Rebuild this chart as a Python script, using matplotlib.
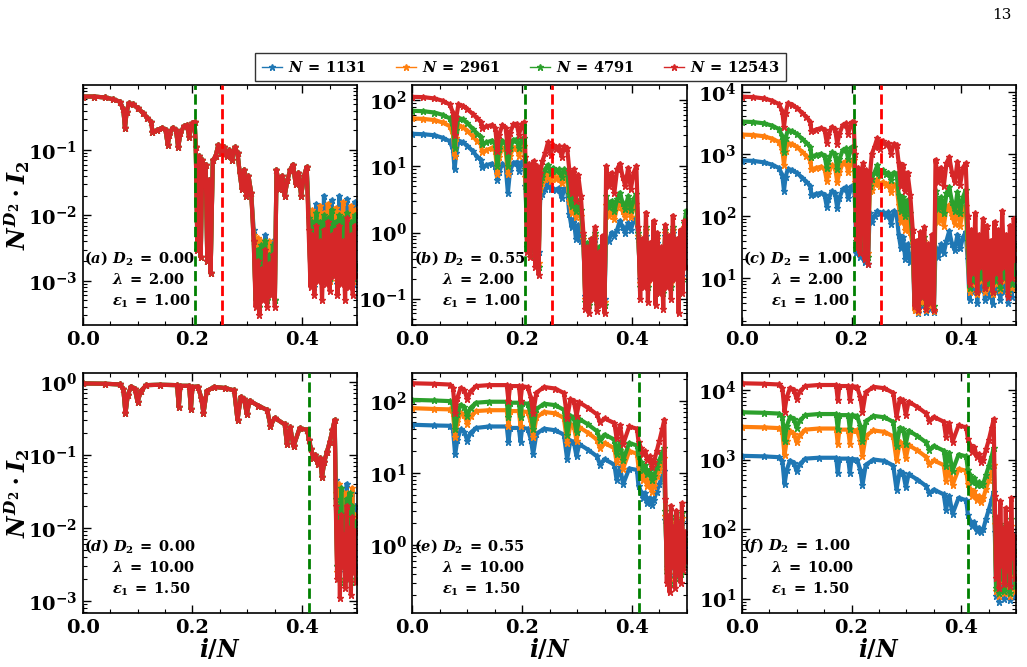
import matplotlib
matplotlib.use("Agg")
import matplotlib.pyplot as plt
from matplotlib.lines import Line2D
from matplotlib.ticker import MultipleLocator, LogLocator, NullFormatter

plt.rcParams.update({
    "font.family": "DejaVu Serif",
    "font.weight": "bold",
    "font.size": 14,
    "mathtext.fontset": "custom",
    "mathtext.rm": "DejaVu Serif:bold",
    "mathtext.bf": "DejaVu Serif:bold",
    "mathtext.it": "DejaVu Serif:italic:bold",
    "axes.linewidth": 1.2,
    "xtick.direction": "in",
    "ytick.direction": "in",
    "xtick.top": True,
    "ytick.right": True,
})

# *** Datos ***
N_VALUES = [1131, 2961, 4791, 12543]
COLORS = ["#1f77b4", "#ff7f0e", "#2ca02c", "#d62728"]

# eje x compartido (fila superior: lambda = 2, eps = 1)
X_TOP = [0.000, 0.020, 0.040, 0.055, 0.068, 0.074, 0.077, 0.080, 0.084, 0.092,
         0.100, 0.110, 0.118, 0.125, 0.127, 0.135, 0.145, 0.151, 0.155, 0.158,
         0.164, 0.170, 0.174, 0.178, 0.184, 0.190, 0.194, 0.200, 0.204,
         0.206, 0.209, 0.212, 0.215, 0.218, 0.221, 0.224, 0.227, 0.230, 0.233,
         0.237, 0.242, 0.247, 0.252, 0.257, 0.262, 0.267, 0.272, 0.277, 0.282,
         0.286, 0.290, 0.294, 0.298, 0.302, 0.307,
         0.3115, 0.315, 0.3185, 0.322, 0.3255, 0.329, 0.3325, 0.336, 0.3395, 0.343, 0.3465, 0.350,
         0.353, 0.358, 0.363, 0.368, 0.373, 0.378, 0.383, 0.388, 0.393, 0.398, 0.403, 0.408,
         0.4115, 0.415, 0.4185, 0.422, 0.4255, 0.429, 0.4325, 0.436, 0.4395, 0.443, 0.4465, 0.450,
         0.4535, 0.457, 0.4605, 0.464, 0.4675, 0.471, 0.4745, 0.478, 0.4815, 0.485, 0.4885, 0.492,
         0.4955, 0.499]

# eje x compartido (fila inferior: lambda = 10, eps = 1.5)
X_BOT = [0.000, 0.040, 0.068, 0.074, 0.078, 0.082, 0.088, 0.095, 0.100, 0.106,
         0.116, 0.140, 0.172, 0.175, 0.178, 0.194, 0.197, 0.200, 0.210, 0.216,
         0.220, 0.226, 0.240, 0.260, 0.276, 0.282, 0.288, 0.294, 0.299, 0.304,
         0.320, 0.336, 0.342, 0.350, 0.368, 0.372, 0.378, 0.384, 0.395, 0.409,
         0.412, 0.416, 0.420, 0.424, 0.428, 0.432, 0.436, 0.440, 0.445, 0.450, 0.455, 0.459,
         0.461, 0.4635, 0.466, 0.4685, 0.471, 0.4735, 0.476, 0.4785, 0.481, 0.4835, 0.486, 0.4885,
         0.491, 0.4935, 0.496, 0.4985]

# --- (a) D2 = 0.00: las cuatro curvas coinciden fuera de las zonas ruidosas
A_SMOOTH = [0.66, 0.66, 0.64, 0.60, 0.55, 0.42, 0.22, 0.38, 0.52, 0.50,
            0.44, 0.37, 0.31, 0.27, 0.19, 0.20, 0.22, 0.20, 0.12, 0.17,
            0.22, 0.20, 0.11, 0.18, 0.23, 0.24, 0.16, 0.26, 0.27]
A_MID = [0.11, 0.003, 0.08, 0.0023, 0.07, 0.045, 0.06, 0.002, 0.035, 0.0013,
         0.07, 0.08, 0.12, 0.09, 0.11, 0.08, 0.10, 0.07, 0.11, 0.09,
         0.045, 0.025, 0.05, 0.02, 0.04, 0.022]
A_BAND3 = [0.05, 0.025, 0.04, 0.02, 0.035, 0.05, 0.06, 0.03, 0.045, 0.02, 0.04, 0.055]
A_NOISY2_BLUE = [0.006, 0.0005, 0.004, 0.0004, 0.003, 0.0006, 0.005, 0.0005, 0.003, 0.0007, 0.004, 0.0005]
A_NOISY2_ORANGE = [0.005, 0.0005, 0.0045, 0.0004, 0.004, 0.0006, 0.0035, 0.0005, 0.004, 0.0007, 0.003, 0.0005]
A_NOISY2_GREEN = [0.004, 0.0005, 0.003, 0.0004, 0.0035, 0.0006, 0.004, 0.0005, 0.0025, 0.0007, 0.0035, 0.0005]
A_NOISY2_RED = [0.004, 0.0004, 0.002, 0.0003, 0.0015, 0.0005, 0.003, 0.0004, 0.0018, 0.0006, 0.0025, 0.0004]
A_NOISY3_BLUE = [0.012, 0.001, 0.009, 0.0008, 0.015, 0.0012, 0.01, 0.0009, 0.02, 0.0011, 0.012, 0.001, 0.017,
                 0.0015, 0.011, 0.0009, 0.02, 0.0012, 0.013, 0.0008, 0.018, 0.001, 0.012, 0.0009, 0.016, 0.0015]
A_NOISY3_ORANGE = [0.01, 0.0011, 0.012, 0.0009, 0.009, 0.0013, 0.014, 0.001, 0.011, 0.0012, 0.015, 0.001, 0.009,
                   0.0014, 0.013, 0.001, 0.011, 0.0013, 0.016, 0.0009, 0.01, 0.0012, 0.014, 0.001, 0.012, 0.0016]
A_NOISY3_GREEN = [0.009, 0.0012, 0.008, 0.001, 0.011, 0.0014, 0.008, 0.0011, 0.01, 0.0013, 0.009, 0.0011, 0.012,
                  0.0015, 0.008, 0.0011, 0.01, 0.0014, 0.009, 0.001, 0.011, 0.0013, 0.008, 0.0011, 0.01, 0.0017]
A_NOISY3_RED = [0.006, 0.0008, 0.005, 0.0006, 0.007, 0.001, 0.004, 0.0005, 0.006, 0.0009, 0.008, 0.0007, 0.005,
                0.0012, 0.006, 0.0006, 0.007, 0.0009, 0.004, 0.0005, 0.009, 0.0008, 0.005, 0.0006, 0.007, 0.0012]

# --- (b) D2 = 0.55
B_BLUE = [31, 30.5, 29.5, 27, 24, 18, 9, 16, 24.5, 23, 20.5, 17, 14, 12.5, 9.7, 10.4, 11, 10, 6.3, 8.2,
          11, 10, 4.0, 8.6, 11.3, 11.5, 8.6, 11.8, 12,
          5, 0.9, 4, 0.8, 3.2, 4.5, 0.6, 3.5, 0.5, 3.5,
          3.8, 4.5, 5.8, 4.5, 4.6, 4.4, 4.7, 3.3, 4.6, 4.5,
          1.9, 1.2, 1.6, 0.8, 1.3, 0.75,
          0.7, 0.11, 0.5, 0.1, 0.6, 0.14, 0.8, 0.1, 0.45, 0.12, 0.6, 0.1,
          0.8, 0.75, 1.0, 0.9, 1.1, 1.5, 1.2, 1.0, 1.4, 1.1, 1.5, 1.7,
          0.8, 0.2, 0.5, 0.25, 0.9, 0.2, 0.45, 0.3, 0.8, 0.16, 0.7, 0.22, 0.4,
          0.16, 0.9, 0.25, 0.6, 0.2, 1.0, 0.3, 0.5, 0.16, 0.8, 0.22, 1.1, 1.3]
B_ORANGE = [53, 52, 50, 46, 40.5, 30.5, 14.5, 27, 41.5, 39, 34.5, 28.5, 24, 21.5, 16.5, 17.5, 19, 17, 7.7, 14,
            19, 17, 7.7, 14.5, 19, 19.5, 14.5, 20, 20.3,
            7, 0.7, 5.5, 0.6, 4.5, 6, 0.45, 5, 0.35, 4.5,
            5.5, 6.5, 8, 6, 7.5, 6.5, 7, 5.5, 7, 6.5,
            3, 2, 2.8, 1.7, 2.4, 1.8,
            0.8, 0.1, 0.6, 0.09, 0.7, 0.13, 0.9, 0.09, 0.5, 0.11, 0.7, 0.09,
            2.6, 1.8, 2.3, 1.6, 2.4, 2.9, 2.1, 1.7, 2.6, 1.7, 2.4, 2.7,
            0.9, 0.17, 0.6, 0.22, 1.1, 0.17, 0.55, 0.27, 0.9, 0.14, 0.8, 0.2, 0.45,
            0.14, 1.0, 0.22, 0.7, 0.17, 1.1, 0.27, 0.6, 0.14, 0.9, 0.2, 1.2, 1.6]
B_GREEN = [69, 68, 65, 60, 53, 40, 19, 35, 54, 51, 45, 37, 31, 28, 21.5, 23, 24.5, 22, 10, 18,
           24.5, 22, 10, 19, 25, 25.5, 19, 26, 26.5,
           9, 0.6, 7, 0.5, 5.5, 7.5, 0.4, 6, 0.3, 5.5,
           7, 9, 10.5, 8, 9.5, 8.5, 9, 7, 9, 8.5,
           3.8, 2.5, 3.5, 2.1, 3, 2.2,
           0.9, 0.09, 0.7, 0.08, 0.8, 0.12, 1.0, 0.08, 0.6, 0.1, 0.8, 0.08,
           3.5, 2.4, 3, 2.1, 3.2, 4, 2.8, 2.3, 3.5, 2.2, 3.2, 3.8,
           1.0, 0.15, 0.7, 0.2, 1.2, 0.15, 0.6, 0.25, 1.0, 0.12, 0.9, 0.18, 0.5,
           0.12, 1.1, 0.2, 0.8, 0.15, 1.2, 0.25, 0.7, 0.12, 1.0, 0.18, 1.4, 2.1]
B_RED = [112, 111, 106, 98, 86, 65, 30, 55, 86, 82, 73, 62, 53, 47, 38, 40, 42, 38, 17, 30,
         42, 38, 17, 32, 43, 44, 30, 44, 46,
         14, 0.5, 11, 0.42, 9, 12, 0.3, 10, 0.23, 8,
         12, 16, 23, 15, 21, 18, 20, 14, 20, 19,
         8.5, 4, 9, 3, 7.5, 3.5,
         1.0, 0.07, 0.6, 0.06, 0.8, 0.1, 1.2, 0.065, 0.5, 0.08, 0.9, 0.06,
         10, 5, 8, 4, 9, 11, 7, 5, 9.5, 4.5, 8, 10,
         1.2, 0.1, 0.8, 0.15, 2.0, 0.09, 0.7, 0.2, 1.5, 0.08, 1.0, 0.12, 0.6,
         0.07, 1.3, 0.15, 0.9, 0.1, 1.8, 0.2, 0.8, 0.06, 1.1, 0.12, 1.5, 0.3]

# --- (c) D2 = 1.00
C_BLUE = [780, 770, 730, 670, 590, 450, 255, 425, 570, 545, 495, 415, 355, 305, 215, 225, 235, 217, 140, 185,
          250, 230, 135, 195, 270, 290, 195, 300, 305,
          200, 25, 150, 22, 110, 180, 18, 130, 17, 110,
          80, 100, 120, 110, 115, 100, 115, 75, 120, 110,
          50, 30, 45, 20, 35, 18,
          25, 3, 20, 2.7, 25, 3.5, 30, 2.8, 15, 3.2, 20, 2.8,
          30, 22, 35, 25, 40, 57, 35, 28, 50, 30, 45, 55,
          20, 4.5, 15, 6, 25, 4, 12, 6.5, 20, 4.5, 15, 5, 10,
          3.8, 18, 6, 15, 4.5, 22, 6, 12, 4, 15, 5, 20, 7]
C_ORANGE = [2040, 2010, 1920, 1760, 1550, 1170, 670, 1110, 1480, 1420, 1300, 1080, 930, 800, 560, 590, 620, 570,
            365, 480, 650, 605, 350, 505, 710, 755, 510, 790, 800,
            350, 45, 280, 40, 220, 300, 30, 250, 25, 250,
            260, 330, 390, 300, 350, 320, 330, 240, 320, 310,
            150, 80, 130, 60, 110, 55,
            35, 3, 25, 2.8, 35, 4, 40, 3, 20, 3.5, 30, 2.9,
            140, 80, 120, 70, 130, 150, 100, 75, 140, 70, 120, 145,
            30, 6, 22, 8, 40, 5.5, 20, 9, 30, 6, 25, 7, 15,
            5.5, 28, 8, 22, 6.5, 35, 9, 20, 5.5, 25, 7, 30, 10]
C_GREEN = [3300, 3250, 3100, 2850, 2500, 1900, 1080, 1800, 2400, 2300, 2100, 1750, 1500, 1300, 900, 950, 1000, 920,
           590, 780, 1050, 980, 570, 820, 1150, 1220, 830, 1280, 1300,
           530, 40, 400, 35, 300, 450, 25, 350, 22, 300,
           400, 500, 650, 450, 550, 480, 500, 380, 500, 480,
           220, 120, 200, 100, 180, 110,
           40, 4, 30, 3.5, 40, 5, 45, 3.6, 25, 4.5, 35, 3.5,
           250, 130, 200, 110, 230, 290, 170, 120, 240, 110, 200, 260,
           40, 7, 30, 9, 50, 6, 25, 10, 40, 7, 30, 8, 20,
           6, 35, 9, 30, 7, 45, 10, 25, 6, 30, 8, 35, 12]
C_RED = [8300, 8200, 7800, 7200, 6300, 4800, 2700, 4500, 6500, 6200, 5500, 4600, 3900, 3300, 2300, 2450, 2600, 2400,
         1500, 2000, 2700, 2500, 1450, 2100, 2900, 3100, 2100, 3200, 3300,
         1000, 30, 600, 25, 500, 700, 20, 550, 17, 400,
         1000, 1300, 1800, 1200, 1600, 1400, 1500, 1000, 1450, 1400,
         700, 300, 650, 250, 500, 220,
         60, 3.5, 40, 3, 55, 5, 66, 3.2, 35, 4, 50, 3,
         800, 350, 600, 300, 700, 890, 500, 350, 750, 320, 600, 700,
         100, 8, 60, 12, 110, 6, 50, 15, 90, 7, 70, 10, 40,
         6, 80, 12, 60, 9, 120, 15, 50, 5, 70, 10, 90, 20]

# --- (d) D2 = 0.00
D_SMOOTH = [0.95, 0.94, 0.92, 0.80, 0.37, 0.65, 0.86, 0.80, 0.53, 0.75,
            0.90, 0.91, 0.90, 0.45, 0.88, 0.88, 0.42, 0.85, 0.86, 0.60,
            0.37, 0.75, 0.85, 0.82, 0.76, 0.30, 0.62, 0.58, 0.36, 0.55,
            0.47, 0.41, 0.25, 0.32, 0.26, 0.14, 0.24, 0.13, 0.23, 0.22,
            0.16, 0.12, 0.09, 0.10, 0.075, 0.09, 0.05, 0.08, 0.11, 0.15, 0.22, 0.30]
D_TAIL_BLUE = [0.045, 0.003, 0.03, 0.002, 0.035, 0.004, 0.02, 0.0025, 0.04, 0.003, 0.025, 0.002, 0.03, 0.004, 0.02, 0.003]
D_TAIL_ORANGE = [0.03, 0.0025, 0.04, 0.002, 0.025, 0.0035, 0.03, 0.002, 0.03, 0.003, 0.02, 0.002, 0.035, 0.003, 0.015, 0.0025]
D_TAIL_GREEN = [0.025, 0.003, 0.02, 0.0018, 0.035, 0.003, 0.015, 0.002, 0.025, 0.0025, 0.03, 0.0018, 0.02, 0.0035, 0.012, 0.002]
D_TAIL_RED = [0.02, 0.002, 0.012, 0.0011, 0.015, 0.003, 0.008, 0.0015, 0.02, 0.002, 0.01, 0.0012, 0.014, 0.0025, 0.009, 0.0018]

# --- (e) D2 = 0.55
E_BLUE = [46.5, 45.5, 45, 40, 18, 29, 40, 37, 28, 36, 42, 44, 44, 27, 42, 42, 27, 42, 41, 29,
          18, 35, 41, 39, 34, 15.5, 28, 27, 17, 25, 21, 17, 13, 15.5, 13, 8, 12, 7, 11.5, 11,
          6.5, 5.5, 4.5, 5.2, 3.8, 4.5, 3.6, 4.2, 5.5, 7, 9, 10.5,
          2.2, 0.5, 1.6, 0.4, 2, 0.7, 1.2, 0.45, 1.8, 0.55, 1.3, 0.45, 2.1, 0.6, 1, 0.8]
E_ORANGE = [79, 77, 76, 67, 31, 50, 67, 63, 48, 61, 72, 74, 74, 45, 72, 72, 45, 71, 70, 50,
            31, 59, 70, 67, 58, 26, 47, 45, 28, 43, 36, 29, 22, 26, 22, 14, 21, 11.5, 20, 18.5,
            12, 10, 8, 9.5, 6.5, 8, 5.5, 6.5, 9, 11, 14, 16,
            2.5, 0.45, 1.8, 0.35, 2.2, 0.6, 1.4, 0.4, 2, 0.5, 1.5, 0.4, 2.4, 0.55, 1.1, 0.7]
E_GREEN = [103, 101, 99, 88, 40, 65, 88, 82, 62, 80, 94, 97, 97, 59, 94, 94, 59, 93, 91, 65,
           40, 77, 91, 87, 75, 34, 62, 59, 37, 56, 47, 38, 29, 34, 29, 18, 27, 15, 26, 24,
           17, 14, 11, 13, 9.5, 11, 8, 9, 12, 15, 19, 22,
           3, 0.4, 2, 0.3, 2.5, 0.6, 1.5, 0.35, 2.2, 0.5, 1.6, 0.4, 2.8, 0.5, 1.2, 0.7]
E_RED = [175, 172, 168, 150, 68, 110, 150, 140, 105, 135, 160, 165, 165, 100, 160, 160, 100, 158, 155, 110,
         67, 130, 155, 148, 128, 58, 105, 100, 62, 95, 80, 65, 50, 57, 49, 30, 46, 25, 44, 41,
         27, 22, 18, 20, 15, 17, 12, 14, 20, 28, 40, 55,
         4.4, 0.3, 2.5, 0.22, 3.5, 0.5, 1.8, 0.25, 3, 0.4, 2, 0.3, 3.8, 0.45, 1.5, 0.6]

# --- (f) D2 = 1.00
F_BLUE = [1130, 1110, 1080, 965, 440, 710, 965, 900, 680, 865, 1030, 1060, 1060, 640, 1030, 1030, 640, 1020,
          1000, 710, 430, 840, 1000, 955, 820, 370, 680, 640, 400, 615, 515, 415, 325, 370, 315, 190, 300,
          165, 280, 260,
          160, 130, 110, 125, 95, 105, 91, 100, 140, 190, 260, 340,
          90, 11, 60, 9, 80, 14, 40, 10, 70, 12, 50, 9.5, 85, 16, 35, 11]
F_ORANGE = [2950, 2900, 2830, 2530, 1160, 1870, 2530, 2360, 1770, 2270, 2690, 2790, 2790, 1670, 2690, 2690,
            1670, 2670, 2620, 1870, 1130, 2190, 2620, 2500, 2150, 970, 1770, 1670, 1040, 1610, 1350, 1090,
            850, 970, 830, 490, 780, 430, 730, 690,
            450, 380, 300, 350, 260, 300, 245, 280, 380, 500, 650, 830,
            120, 13, 80, 11, 100, 18, 55, 12, 90, 14, 60, 11, 110, 22, 45, 13]
F_GREEN = [4780, 4700, 4580, 4090, 1870, 3020, 4090, 3820, 2870, 3670, 4350, 4510, 4510, 2710, 4350, 4350,
           2710, 4320, 4240, 3020, 1830, 3550, 4240, 4050, 3480, 1570, 2870, 2710, 1680, 2600, 2180, 1760,
           1380, 1570, 1340, 800, 1260, 690, 1180, 1110,
           700, 600, 480, 550, 430, 470, 425, 450, 600, 800, 1100, 1450,
           150, 14, 90, 12, 120, 20, 60, 13, 110, 16, 70, 12, 140, 25, 50, 15]
F_RED = [12500, 12300, 12000, 10700, 4900, 7900, 10700, 10000, 7500, 9600, 11400, 11800, 11800, 7100, 11400,
         11400, 7100, 11300, 11100, 7900, 4800, 9300, 11100, 10600, 9100, 4100, 7500, 7100, 4400, 6800, 5700,
         4600, 3600, 4100, 3500, 2100, 3300, 1800, 3100, 2900,
         2000, 1600, 1300, 1500, 1100, 1200, 920, 1000, 1400, 1900, 2800, 3800,
         300, 20, 150, 14, 250, 30, 100, 16, 200, 25, 120, 15, 280, 40, 80, 20]

PANELES = [
    # etiqueta, D2, lambda, eps1, x, series, ylim, lineas verticales
    ("a", "0.00", "2.00", "1.00", X_TOP,
     [A_SMOOTH + A_MID + A_NOISY2_BLUE + A_BAND3 + A_NOISY3_BLUE,
      A_SMOOTH + A_MID + A_NOISY2_ORANGE + A_BAND3 + A_NOISY3_ORANGE,
      A_SMOOTH + A_MID + A_NOISY2_GREEN + A_BAND3 + A_NOISY3_GREEN,
      A_SMOOTH + A_MID + A_NOISY2_RED + A_BAND3 + A_NOISY3_RED],
     (2.1e-4, 0.99), [(0.2045, "green"), (0.2545, "red")]),
    ("b", "0.55", "2.00", "1.00", X_TOP, [B_BLUE, B_ORANGE, B_GREEN, B_RED],
     (0.04, 169), [(0.2045, "green"), (0.2545, "red")]),
    ("c", "1.00", "2.00", "1.00", X_TOP, [C_BLUE, C_ORANGE, C_GREEN, C_RED],
     (1.75, 12800), [(0.2045, "green"), (0.2545, "red")]),
    ("d", "0.00", "10.00", "1.50", X_BOT,
     [D_SMOOTH + D_TAIL_BLUE, D_SMOOTH + D_TAIL_ORANGE, D_SMOOTH + D_TAIL_GREEN, D_SMOOTH + D_TAIL_RED],
     (6.8e-4, 1.32), [(0.412, "green")]),
    ("e", "0.55", "10.00", "1.50", X_BOT, [E_BLUE, E_ORANGE, E_GREEN, E_RED],
     (0.114, 243), [(0.412, "green")]),
    ("f", "1.00", "10.00", "1.50", X_BOT, [F_BLUE, F_ORANGE, F_GREEN, F_RED],
     (6.2, 17570), [(0.412, "green")]),
]

# posiciones de los ejes en fracción de figura
LEFTS = [0.0805, 0.4015, 0.7222]
BOTTOMS = [0.5127, 0.081]
W, H = 0.2673, 0.3598


def dibujar_panel(ax, etiqueta, d2, lam, eps, x, series, ylim, vlines, fila, col):
    for y, color in zip(series, COLORS):
        ax.plot(x, y, "-", marker="*", ms=5, lw=3.0, color=color)
    for xv, c in vlines:
        ax.axvline(xv, color=c, ls="--", lw=2.0, zorder=6)

    ax.set_yscale("log")
    ax.set_xlim(0, 0.5)
    ax.set_ylim(*ylim)
    ax.xaxis.set_major_locator(MultipleLocator(0.2))
    ax.xaxis.set_minor_locator(MultipleLocator(0.05))
    ax.yaxis.set_minor_locator(LogLocator(base=10, subs=range(2, 10), numticks=20))
    ax.yaxis.set_minor_formatter(NullFormatter())
    ax.xaxis.set_major_formatter(plt.FuncFormatter(lambda v, p: f"{v:.1f}"))
    ax.tick_params(which="major", length=6, width=1.0, labelsize=14, pad=4)
    ax.tick_params(which="minor", length=3, width=0.8)

    ax.text(0.005, 0.28, rf"$({etiqueta})\ D_2\:=\:{d2}$", transform=ax.transAxes,
            fontsize=10.5, ha="left", va="center")
    ax.text(0.107, 0.19, rf"$\lambda\:=\:{lam}$", transform=ax.transAxes,
            fontsize=10.5, ha="left", va="center")
    ax.text(0.107, 0.10, rf"$\epsilon_1\:=\:{eps}$", transform=ax.transAxes,
            fontsize=10.5, ha="left", va="center")

    if col == 0:
        ax.set_ylabel(r"$N^{D_2}\cdot I_2$", fontsize=17)
        ax.yaxis.set_label_coords(-0.185, 0.5)
    if fila == 1:
        ax.set_xlabel(r"$i/N$", fontsize=17)
        ax.xaxis.set_label_coords(0.5, -0.10)


fig = plt.figure(figsize=(10.27, 6.67), dpi=100)

for k, (etiqueta, d2, lam, eps, x, series, ylim, vlines) in enumerate(PANELES):
    fila, col = divmod(k, 3)
    ax = fig.add_axes([LEFTS[col], BOTTOMS[fila], W, H])
    dibujar_panel(ax, etiqueta, d2, lam, eps, x, series, ylim, vlines, fila, col)

handles = [Line2D([], [], color=c, marker="*", ms=5, lw=1.0) for c in COLORS]
labels = [rf"$N\,=\,{n}$" for n in N_VALUES]
fig.legend(handles, labels, loc="center", bbox_to_anchor=(0.507, 0.899), ncol=4,
           frameon=True, fancybox=False, edgecolor="#333333", framealpha=1,
           fontsize=10.5, handlelength=1.4, handletextpad=0.4, columnspacing=2.0,
           borderpad=0.45)

fig.text(0.985, 0.977, "13", ha="right", va="center", fontsize=11,
         family="DejaVu Serif", weight="normal")

fig.savefig("out.png", dpi=100)
